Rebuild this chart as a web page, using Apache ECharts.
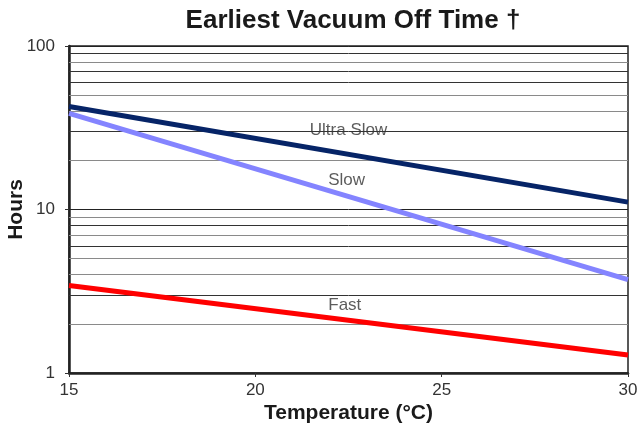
<!DOCTYPE html>
<html><head><meta charset="utf-8">
<script src="https://cdn.jsdelivr.net/npm/echarts@6/dist/echarts.min.js"></script>
<style>html,body{margin:0;padding:0;background:#fff}#c{width:639px;height:430px}</style>
</head><body><div id="c"></div>
<script>
var temps = [15, 30];
var ultraSlow = [42.7, 11.1];
var slow = [38.7, 3.73];
var fast = [3.43, 1.29];
var xTicks = [15, 20, 25, 30];
var minorDark = [3, 6, 8, 30, 60, 90, 70];
var minorGray = [2, 4, 5, 7, 9, 20, 40, 50, 80];
var labels = [
  {name: 'Ultra Slow', x: 22.5, y: 30.4},
  {name: 'Slow', x: 22.45, y: 15.0},
  {name: 'Fast', x: 22.4, y: 2.6}
];
var FONT = '"Liberation Sans", Arial, Helvetica, sans-serif';
function pairs(ys){ return temps.map(function(t,i){return [t, ys[i]];}); }
var gridLines = minorDark.map(function(v){return {yAxis: v, lineStyle:{color:'#333', width:1, type:'solid'}};})
  .concat(minorGray.map(function(v){return {yAxis: v, lineStyle:{color:'#8a8a8a', width:1.2, type:'solid'}};}));
var chart = echarts.init(document.getElementById('c'), null, {renderer:'canvas'});
chart.setOption({
  animation: false,
  title: {text: 'Earliest Vacuum Off Time \u2020', left: 348, top: 3, textAlign: 'center',
    textStyle: {fontFamily: FONT, fontWeight: 'bold', fontSize: 26, color: '#1a1a1a'}},
  grid: {left: 69, right: 11, top: 46, bottom: 57, show: true, borderColor: '#222', borderWidth: 1.5,
    containLabel: false, outerBoundsMode: 'none'},
  xAxis: {type: 'value', min: 15, max: 30, interval: 5,
    name: 'Temperature (\u00b0C)', nameLocation: 'middle', nameGap: 30, nameMoveOverlap: false,
    nameTextStyle: {fontFamily: FONT, fontWeight: 'bold', fontSize: 21, color: '#1a1a1a'},
    axisLine: {show: true, lineStyle: {color: '#222', width: 2.5}},
    axisTick: {show: true, length: 4, lineStyle: {color: '#333'}},
    splitLine: {show: false},
    axisLabel: {fontFamily: FONT, fontSize: 17, color: '#333', margin: 9,
      formatter: function(v){ return xTicks.indexOf(v) >= 0 ? String(v) : ''; }}
  },
  yAxis: {type: 'log', logBase: 10, min: 1, max: 100,
    name: 'Hours', nameLocation: 'middle', nameGap: 42, nameRotate: 90, nameMoveOverlap: false,
    nameTextStyle: {fontFamily: FONT, fontWeight: 'bold', fontSize: 21, color: '#1a1a1a'},
    axisLine: {show: true, lineStyle: {color: '#222', width: 2.5}},
    axisTick: {show: true, length: 4, inside: false, lineStyle: {color: '#333'}},
    splitLine: {show: true, lineStyle: {color: '#222', width: 1}},
    axisLabel: {fontFamily: FONT, fontSize: 17, color: '#333', margin: 14}
  },
  series: [
    {type: 'line', name: 'grid', data: [], silent: true,
      markLine: {silent: true, symbol: 'none', label: {show: false}, animation: false, data: gridLines}},
    {type: 'line', name: 'Ultra Slow', data: pairs(ultraSlow), symbol: 'none', lineStyle: {color: '#062467', width: 5}, z: 5},
    {type: 'line', name: 'Slow', data: pairs(slow), symbol: 'none', lineStyle: {color: '#8484ff', width: 5}, z: 5},
    {type: 'line', name: 'Fast', data: pairs(fast), symbol: 'none', lineStyle: {color: '#ff0000', width: 5}, z: 5},
    {type: 'scatter', name: 'labels', symbolSize: 0, z: 6, silent: true,
      data: labels.map(function(l){return {value:[l.x, l.y], name: l.name};}),
      label: {show: true, position: 'inside', formatter: '{b}', fontFamily: FONT, fontSize: 17, color: '#333'}}
  ]
});
</script></body></html>
